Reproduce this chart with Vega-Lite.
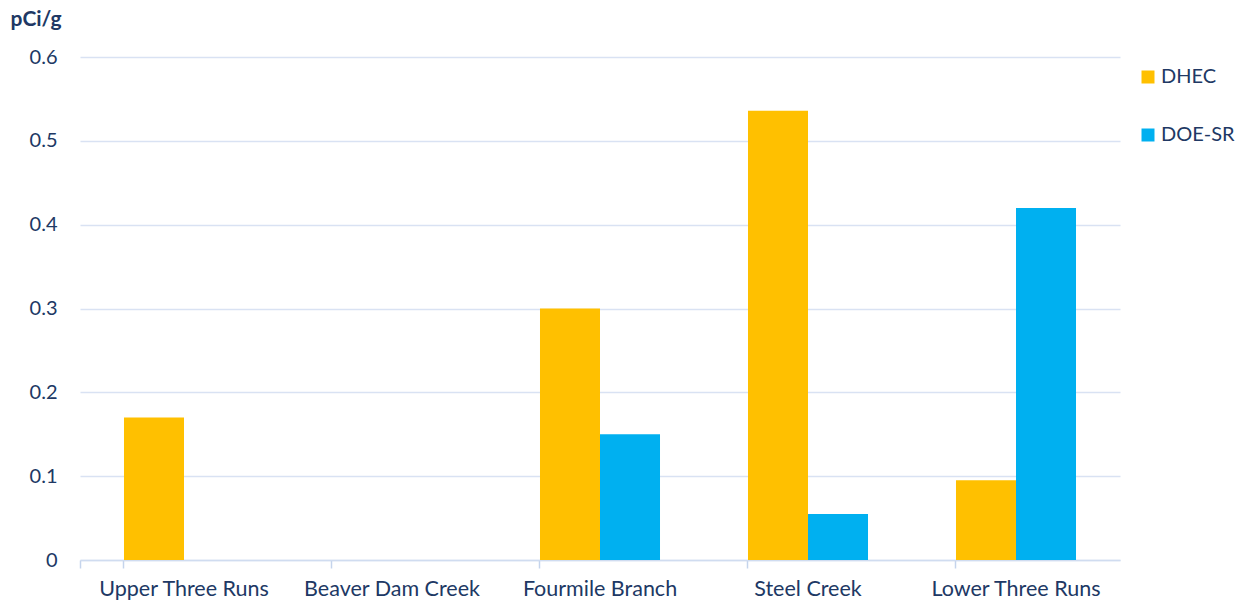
{
  "$schema": "https://vega.github.io/schema/vega-lite/v6.json",
  "width": 1040,
  "height": 503,
  "autosize": "none",
  "padding": {"left": 80, "top": 57, "right": 125, "bottom": 46},
  "background": "white",
  "data": {
    "values": [
      {"site": "Upper Three Runs", "agency": "DHEC", "value": 0.17},
      {"site": "Upper Three Runs", "agency": "DOE-SR", "value": 0},
      {"site": "Beaver Dam Creek", "agency": "DHEC", "value": 0},
      {"site": "Beaver Dam Creek", "agency": "DOE-SR", "value": 0},
      {"site": "Fourmile Branch", "agency": "DHEC", "value": 0.30},
      {"site": "Fourmile Branch", "agency": "DOE-SR", "value": 0.15},
      {"site": "Steel Creek", "agency": "DHEC", "value": 0.536},
      {"site": "Steel Creek", "agency": "DOE-SR", "value": 0.055},
      {"site": "Lower Three Runs", "agency": "DHEC", "value": 0.095},
      {"site": "Lower Three Runs", "agency": "DOE-SR", "value": 0.42}
    ]
  },
  "mark": {"type": "bar"},
  "encoding": {
    "x": {
      "field": "site",
      "type": "nominal",
      "sort": null,
      "scale": {"paddingInner": 0.423, "paddingOuter": 0.2115},
      "axis": {
        "title": null,
        "labelAngle": 0,
        "labelFont": "Lato",
        "labelFontSize": 21.5,
        "labelColor": "#203864",
        "labelPadding": 10,
        "bandPosition": 0,
        "tickExtra": true,
        "ticks": true,
        "tickSize": 8,
        "tickWidth": 1.5,
        "tickColor": "#C5D4EC",
        "tickOpacity": 1,
        "domainColor": "#D0DCF0",
        "domainWidth": 1.5,
        "grid": false
      }
    },
    "xOffset": {"field": "agency", "type": "nominal", "sort": ["DHEC", "DOE-SR"]},
    "y": {
      "field": "value",
      "type": "quantitative",
      "scale": {"domain": [0, 0.6], "nice": false},
      "axis": {
        "values": [0, 0.1, 0.2, 0.3, 0.4, 0.5, 0.6],
        "labelExpr": "datum.value == 0 ? '0' : format(datum.value, '.1f')",
        "title": "pCi/g",
        "titleAngle": 0,
        "titleX": -70,
        "titleY": -32,
        "titleAlign": "left",
        "titleBaseline": "alphabetic",
        "titleFont": "Lato",
        "titleFontSize": 21,
        "titleFontWeight": "bold",
        "titleColor": "#203864",
        "labelFont": "Lato",
        "labelFontSize": 20,
        "labelColor": "#203864",
        "labelPadding": 23,
        "ticks": false,
        "domain": false,
        "grid": true,
        "gridColor": "#D9E2F3",
        "gridWidth": 1.5
      }
    },
    "color": {
      "field": "agency",
      "type": "nominal",
      "scale": {"domain": ["DHEC", "DOE-SR"], "range": ["#FFC000", "#00B0F0"]},
      "legend": {
        "title": null,
        "orient": "none",
        "legendX": 1058,
        "legendY": 10,
        "symbolType": "square",
        "symbolSize": 169,
        "symbolStrokeWidth": 0,
        "symbolOpacity": 1,
        "labelFont": "Lato",
        "labelFontSize": 20,
        "labelColor": "#203864",
        "labelOffset": 3,
        "rowPadding": 38
      }
    }
  },
  "config": {"view": {"stroke": null}}
}
